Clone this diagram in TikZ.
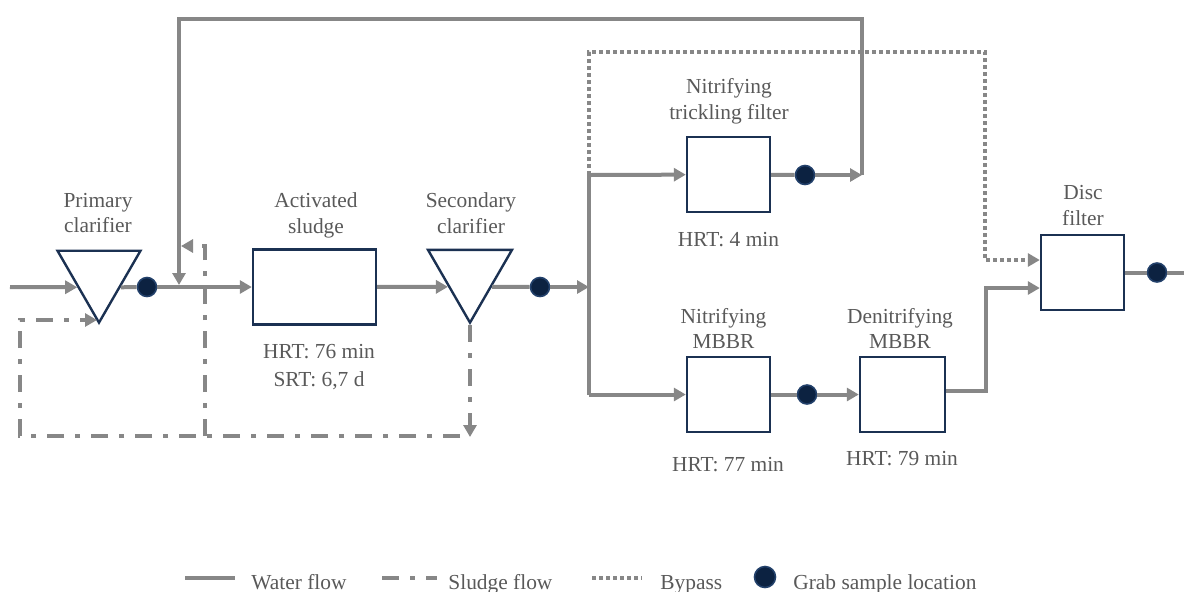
\documentclass[tikz,border=0pt]{standalone}
\usepackage{fontspec}
\setmainfont{Liberation Serif}
\usetikzlibrary{arrows.meta,shapes.geometric,positioning}

\definecolor{flowgray}{HTML}{878787}
\definecolor{tankblue}{HTML}{1B3152}
\definecolor{grabnavy}{HTML}{0C2241}
\definecolor{grabrim}{HTML}{22406A}
\definecolor{labelgray}{HTML}{595959}

\tikzset{
	tank/.style={draw=tankblue, line width=1.2pt, fill=white, inner sep=0pt, minimum height=37.5pt},
	clarifier/.style={draw=tankblue, line width=1.2pt, fill=white, regular polygon, regular polygon sides=3, shape border rotate=180, inner sep=0pt},
	grab/.style={circle, fill=grabnavy, draw=grabrim, line width=0.8pt, minimum size=9.5pt, inner sep=0pt},
	water/.style={draw=flowgray, line width=2pt},
	sludge/.style={water, dash pattern=on 8.5pt off 5.5pt on 2.5pt off 5.5pt},
	bypass/.style={water, dash pattern=on 2pt off 1.5pt},
	flowarrow/.style={-{Triangle[length=6pt,width=6.5pt]}},
	lbl/.style={text=labelgray, align=center, inner sep=0pt, font=\fontsize{10.7}{12.7}\selectfont},
}

\begin{document}
\begin{tikzpicture}[x=0.5pt, y=-0.5pt]
			%%%%% START %%%%%
			\useasboundingbox (0,0) rectangle (1184,591);
			
			% treatment units
			\node[clarifier, minimum size=47.9pt, anchor=corner 1] (pc) at (99,325) {};
			\node[tank, minimum width=61.5pt] (as) at (314.5,287) {};
			\node[clarifier, minimum size=48.5pt, anchor=corner 1] (sc) at (470,325) {};
			\node[tank, minimum width=41.5pt] (tf) at (728.5,174.5) {};
			\node[tank, minimum width=41.5pt] (nm) at (728.5,394.5) {};
			\node[tank, minimum width=42.5pt] (dm) at (902.5,394.5) {};
			\node[tank, minimum width=41.5pt] (df) at (1082.5,272.5) {};
			
			% unit names and retention times
			\node[lbl] (pc-name) at (98,213.2) {Primary\\clarifier};
			\node[lbl] (as-name) at (316,215.5) {Activated\\sludge};
			\node[lbl] (sc-name) at (471,213.2) {Secondary\\clarifier};
			\node[lbl] (tf-name) at (729,101.3) {Nitrifying\\trickling filter};
			\node[lbl] (nm-name) at (723.5,328.5) {Nitrifying\\MBBR};
			\node[lbl] (dm-name) at (900,328.5) {Denitrifying\\MBBR};
			\node[lbl] (df-name) at (1083,205.7) {Disc\\filter};
			\node[lbl] (as-hrt) at (319,367) {HRT: 76 min\\[1pt]SRT: 6,7 d};
			\node[lbl] (tf-hrt) at (728.5,239.5) {HRT: 4 min};
			\node[lbl] (nm-hrt) at (728,464.5) {HRT: 77 min};
			\node[lbl] (dm-hrt) at (902,459) {HRT: 79 min};
			
			% grab samples
			\node[grab] (s1) at (147,287) {};
			\node[grab] (s2) at (540,287) {};
			\node[grab] (s3) at (805,175) {};
			\node[grab] (s4) at (807,394.5) {};
			\node[grab] (s5) at (1157,272.5) {};
			
			% bends and free ends
			\coordinate (inlet) at (10,287);
			\coordinate (mix) at (179,285);
			\coordinate (split) at (589,287);
			\coordinate (splittop) at (589,175);
			\coordinate (splitbot) at (589,394.5);
			\coordinate (tfout) at (862,175);
			\coordinate (rtop) at (862,19);
			\coordinate (ltop) at (179,19);
			\coordinate (dnjoin) at (986,288);
			\coordinate (outlet) at (1200,272.5);
			\coordinate (bya) at (589,52);
			\coordinate (byb) at (985,52);
			\coordinate (byc) at (985,260);
			\coordinate (sl-sw) at (20,436);
			\coordinate (sl-e) at (460,436);
			\coordinate (pcret) at (97,320);
			\coordinate (sl-ras) at (205,436);
			\coordinate (rasturn) at (205,246);
			\coordinate (ras) at (181,246);
			\coordinate (was) at (470,437);
			
			% water line
			\draw[water, flowarrow] (inlet) -- (pc.side 3);
			\draw[water] (pc.side 1) -- (s1);
			\draw[water, flowarrow] (s1) -- (as);
			\draw[water, flowarrow] (as) -- (sc.side 3);
			\draw[water] (sc.side 1) -- (s2);
			\draw[water, flowarrow] (s2) -- (split);
			\draw[water] (splittop) -- (splitbot);
			\draw[water, flowarrow] (splittop) -- (tf);
			\draw[water, flowarrow] (splitbot) -- (nm);
			\draw[water] (tf) -- (s3);
			\draw[water, flowarrow] (s3) -- (tfout);
			\draw[water, flowarrow] (tfout) -- (rtop) -- (ltop) -- (mix);
			\draw[water] (nm) -- (s4);
			\draw[water, flowarrow] (s4) -- (dm);
			\draw[water, flowarrow] ([yshift=2pt]dm.east) -| (dnjoin) -- (dnjoin -| df.west);
			\draw[water] (df) -- (s5);
			\draw[water, flowarrow] (s5) -- (outlet);
			
			% bypass
			\draw[bypass, flowarrow] (splittop) -- (bya) -- (byb) -- (byc) -- (byc -| df.west);
			
			% sludge line
			\draw[sludge, flowarrow] (sc.corner 1) -- (was);
			\draw[sludge, flowarrow] (sl-e) -- (sl-sw) -- (sl-sw |- pcret) -- (pcret);
			\draw[sludge, flowarrow] (sl-ras) -- (rasturn) -- (ras);
			
			% legend
			\coordinate (lw-a) at (185,578);
			\coordinate (lw-b) at (235,578);
			\coordinate (ls-a) at (382,578);
			\coordinate (ls-b) at (437,578);
			\coordinate (lb-a) at (592,578);
			\coordinate (lb-b) at (642,578);
			\draw[water] (lw-a) -- (lw-b);
			\draw[sludge] (ls-a) -- (ls-b);
			\draw[bypass] (lb-a) -- (lb-b);
			\node[grab, minimum height=10.5pt] (lg) at (765,577) {};
			\node[lbl, anchor=base west] (lw-txt) at (251,589) {Water flow};
			\node[lbl, anchor=base west] (ls-txt) at (448,589) {Sludge flow};
			\node[lbl, anchor=base west] (lb-txt) at (660,589) {Bypass};
			\node[lbl, anchor=base west] (lg-txt) at (793,589) {Grab sample location};
			
			%%%%% END %%%%%
\end{tikzpicture}
\end{document}
